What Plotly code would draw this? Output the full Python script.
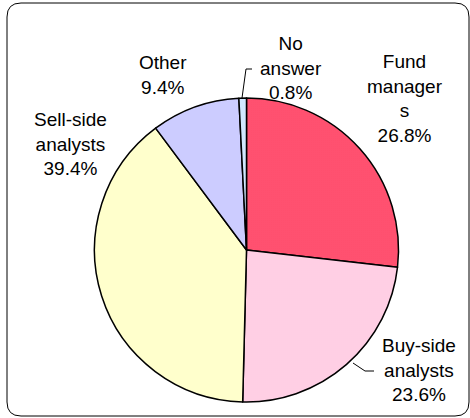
import plotly.graph_objects as go

labels = ["Fund managers", "Buy-side analysts", "Sell-side analysts", "Other", "No answer"]
values = [26.8, 23.6, 39.4, 9.4, 0.8]
# how each label is broken over lines in the chart
label_lines = ["Fund<br>manager<br>s", "Buy-side<br>analysts", "Sell-side<br>analysts", "Other", "No<br>answer"]

bg_colors = ["#FF2D50", "#FFB4D6", "#FFFFCC", "#CCCCFF", "#B8DCFF"]
fg_colors = ["#FF90A8", "#FFFFFF", "#FFFFCC", "#CCCCFF", "#FFFFFF"]
shapes_pat = [".", ".", "", "", "."]

W, H = 470, 418
FONT = "Liberation Sans, Arial, sans-serif"


def px(x, y):
    return x / W, 1 - y / H


# pie centre and radius in pixels
cx, cy, r = 246.5, 250, 152

fig = go.Figure(go.Pie(
    labels=labels,
    values=values,
    sort=False,
    direction="clockwise",
    rotation=0,
    textinfo="none",
    hoverinfo="label+percent",
    marker=dict(
        colors=bg_colors,
        line=dict(color="black", width=1.5),
        pattern=dict(shape=shapes_pat, fgcolor=fg_colors, bgcolor=bg_colors,
                     size=2, solidity=0.35, fillmode="replace"),
    ),
    domain=dict(x=[(cx - r) / W, (cx + r) / W],
                y=[(H - cy - r) / H, (H - cy + r) / H]),
    showlegend=False,
))

# label positions (pixel centres)
label_pos = {
    "Fund managers": (405, 98),
    "Buy-side analysts": (419, 370),
    "Sell-side analysts": (70, 144),
    "Other": (163, 75),
    "No answer": (291, 68),
}

annotations = []
for lab, lines, v in zip(labels, label_lines, values):
    x, y = px(*label_pos[lab])
    annotations.append(dict(
        x=x, y=y, xref="paper", yref="paper",
        text=f"{lines}<br>{v:.1f}%",
        showarrow=False, xanchor="center", yanchor="middle",
        font=dict(family=FONT, size=19, color="black"),
    ))


def path(points):
    d = ""
    for i, (x, y) in enumerate(points):
        X, Y = px(x, y)
        d += ("M" if i == 0 else "L") + f"{X},{Y} "
    return d


shapes = [
    # leader lines
    dict(type="path", xref="paper", yref="paper",
         path=path([(242, 98), (246, 69), (252, 69)]),
         line=dict(color="black", width=1)),
    dict(type="path", xref="paper", yref="paper",
         path=path([(353, 363), (365, 371), (374, 371)]),
         line=dict(color="black", width=1)),
]

# rounded frame
x0, y0, x1, y1, rr = 7, 3, 469, 416, 14
X0, Y0 = x0 / W, 1 - y0 / H
X1, Y1 = x1 / W, 1 - y1 / H
rx, ry = rr / W, rr / H
frame = (f"M{X0 + rx},{Y0} L{X1 - rx},{Y0} Q{X1},{Y0} {X1},{Y0 - ry} "
         f"L{X1},{Y1 + ry} Q{X1},{Y1} {X1 - rx},{Y1} "
         f"L{X0 + rx},{Y1} Q{X0},{Y1} {X0},{Y1 + ry} "
         f"L{X0},{Y0 - ry} Q{X0},{Y0} {X0 + rx},{Y0} Z")
shapes.append(dict(type="path", xref="paper", yref="paper", path=frame,
                   line=dict(color="black", width=1)))

fig.update_layout(
    width=W, height=H,
    margin=dict(l=0, r=0, t=0, b=0),
    paper_bgcolor="white",
    plot_bgcolor="white",
    annotations=annotations,
    shapes=shapes,
)

fig.write_html("out.html", config={"displayModeBar": False},
               post_script="document.body.style.margin='0';")
